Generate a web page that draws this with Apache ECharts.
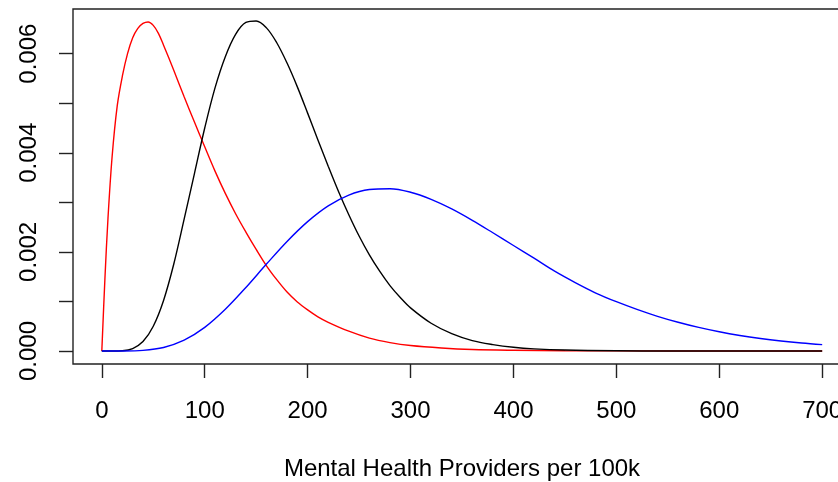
<!DOCTYPE html>
<html>
<head>
<meta charset="utf-8">
<script src="https://cdn.jsdelivr.net/npm/echarts@6/dist/echarts.min.js"></script>
<style>
  html, body { margin: 0; padding: 0; background: #ffffff; }
  #chart { width: 838px; height: 482px; }
</style>
</head>
<body>
<div id="chart"></div>
<script>
// Density curves of mental health providers per 100k population
const redX = [0, 3, 6, 10, 15, 20, 25, 30, 35, 40, 45, 50, 55, 60, 70, 80, 90, 100, 110, 120, 130, 140, 150, 160, 170, 180, 190, 200, 210, 220, 240, 260, 280, 300, 330, 360, 400, 450, 500, 600, 700];
const redY = [0, 0.00145, 0.00268, 0.00392, 0.00495, 0.00555, 0.00600, 0.00632, 0.00651, 0.00661, 0.00664, 0.00657, 0.00641, 0.00617, 0.00566, 0.00513, 0.00462, 0.00412, 0.00363, 0.00318, 0.00277, 0.00240, 0.00205, 0.00172, 0.00144, 0.00119, 0.00099, 0.00083, 0.00069, 0.00058, 0.00040, 0.00026, 0.00017, 0.00011, 0.00006, 0.00003, 0.000015, 0.000006, 0.000002, 0, 0];

const blackX = [0, 10, 20, 30, 40, 50, 60, 70, 80, 90, 100, 110, 120, 130, 140, 150, 160, 170, 180, 190, 200, 210, 220, 230, 240, 250, 260, 270, 280, 290, 300, 320, 340, 360, 380, 400, 420, 450, 500, 550, 600, 700];
const blackY = [0, 0, 0.000006, 0.00005, 0.00019, 0.0005, 0.00102, 0.00176, 0.00266, 0.00358, 0.0045, 0.00531, 0.00594, 0.00639, 0.00663, 0.00666, 0.00652, 0.00622, 0.00581, 0.00533, 0.0048, 0.00426, 0.00373, 0.00322, 0.00275, 0.00232, 0.00194, 0.00161, 0.00132, 0.00108, 0.00087, 0.00056, 0.00035, 0.00021, 0.00013, 0.000076, 0.000044, 0.000019, 0.000004, 0.000001, 0, 0];

const blueX = [0, 20, 40, 60, 80, 100, 120, 140, 160, 180, 200, 220, 240, 260, 280, 300, 320, 340, 360, 380, 400, 420, 440, 460, 480, 500, 520, 540, 560, 580, 600, 620, 640, 660, 680, 700];
const blueY = [0, 0.0000005, 0.000013, 0.000072, 0.000219, 0.000477, 0.000842, 0.001282, 0.001754, 0.002211, 0.002611, 0.002929, 0.003147, 0.003258, 0.003275, 0.003204, 0.00306, 0.002867, 0.002637, 0.002386, 0.002129, 0.001873, 0.00161, 0.00138, 0.00117, 0.000995, 0.00084, 0.0007, 0.00058, 0.000476, 0.000388, 0.000314, 0.000253, 0.000203, 0.000162, 0.000129];

// Axis ticks and labels
const xTicks = [0, 100, 200, 300, 400, 500, 600, 700];
const yTicks = [0, 0.001, 0.002, 0.003, 0.004, 0.005, 0.006];
const yLabels = [0, 0.002, 0.004, 0.006];
const xTitle = 'Mental Health Providers per 100k';

const FONT = "'Liberation Sans', Arial, Helvetica, sans-serif";

function pairs(xs, ys) {
  return xs.map((x, i) => [x, ys[i]]);
}

function curve(xs, ys, color) {
  return {
    type: 'line',
    data: pairs(xs, ys),
    showSymbol: false,
    smooth: 0.35,
    lineStyle: { color: color, width: 1.4 },
    silent: true
  };
}

const chart = echarts.init(document.getElementById('chart'), null, { renderer: 'canvas' });
chart.setOption({
  animation: false,
  backgroundColor: '#ffffff',
  grid: {
    left: 73, top: 9, width: 778, height: 355,
    show: true, borderColor: '#222222', borderWidth: 1.4,
    containLabel: false,
    outerBoundsMode: 'none'
  },
  xAxis: {
    type: 'value',
    min: -28, max: 728,
    axisLine: { show: false, onZero: false },
    splitLine: { show: false },
    axisTick: {
      show: true, inside: false, length: 14, customValues: xTicks,
      lineStyle: { color: '#222222', width: 1.4 }
    },
    axisLabel: {
      show: true, customValues: xTicks, margin: 35,
      color: '#000000', fontSize: 24, fontFamily: FONT,
      formatter: v => String(v)
    },
    name: xTitle,
    nameLocation: 'middle',
    nameGap: 93,
    nameTextStyle: { color: '#000000', fontSize: 24, fontFamily: FONT }
  },
  yAxis: {
    type: 'value',
    min: -0.000262, max: 0.006901,
    axisLine: { show: false, onZero: false },
    splitLine: { show: false },
    axisTick: {
      show: true, inside: false, length: 14, customValues: yTicks,
      lineStyle: { color: '#222222', width: 1.4 }
    },
    axisLabel: {
      show: true, customValues: yLabels, rotate: 90, margin: 32,
      color: '#000000', fontSize: 24, fontFamily: FONT,
      formatter: v => v.toFixed(3)
    }
  },
  series: [
    curve(redX, redY, '#ff0000'),
    curve(blackX, blackY, '#000000'),
    curve(blueX, blueY, '#0000ff')
  ]
});
</script>
</body>
</html>
